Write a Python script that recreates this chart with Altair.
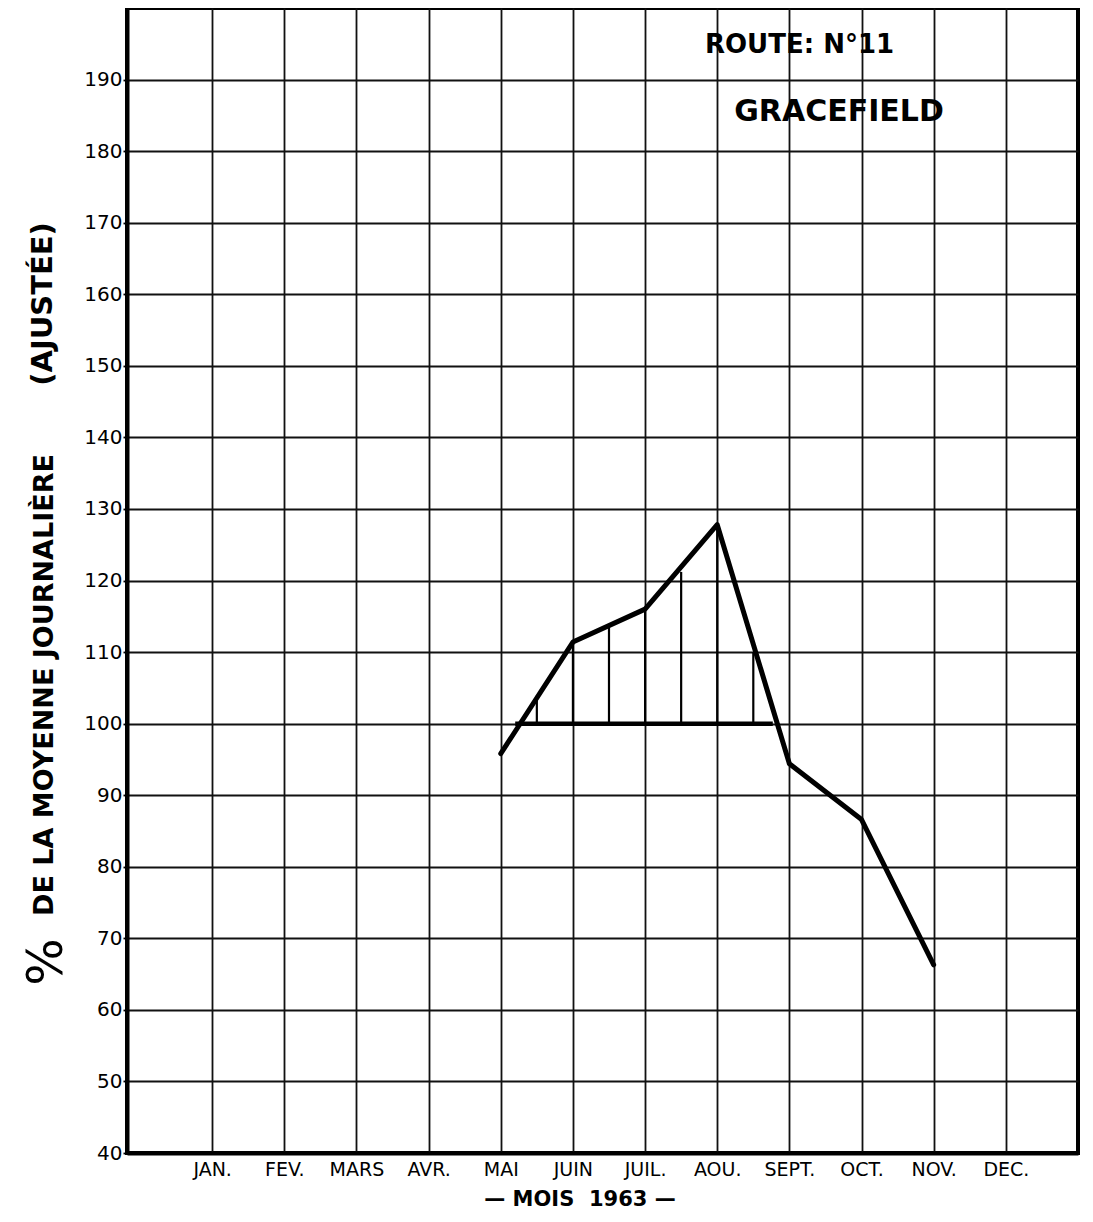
import altair as alt
import pandas as pd

# ---- data ----
month_labels = ["JAN.", "FEV.", "MARS", "AVR.", "MAI", "JUIN", "JUIL.", "AOU.", "SEPT.", "OCT.", "NOV.", "DEC."]
month_pos = list(range(1, 13))

line_months = [5, 6, 7, 8, 9, 10, 11]
line_values = [95.8, 111.4, 116.0, 127.8, 94.4, 86.6, 66.3]

hatch_months = [5.5, 6, 6.5, 7, 7.5, 8, 8.5]
hatch_tops = [103.9, 111.4, 113.8, 116.0, 121.2, 127.8, 110.0]

base_value = 100
base_start = 5.2
base_end = 8.77

y_ticks = list(range(40, 200, 10))

route_text = "ROUTE: N°11"
place_text = "GRACEFIELD"
x_title = "— MOIS\u00a0\u00a01963 —"
y_title_pct = "%"
y_title_main = "DE LA MOYENNE JOURNALIÈRE"
y_title_paren = "(AJUSTÉE)"

FONT = "DejaVu Sans"

W, H = 951, 1145
xscale = alt.Scale(domain=[-0.18, 13], nice=False, zero=False)
yscale = alt.Scale(domain=[40, 200], nice=False, zero=False)

label_expr = "[" + ",".join("'" + m + "'" for m in month_labels) + "][datum.value - 1]"

line_df = pd.DataFrame({"m": line_months, "v": line_values})
hatch_df = pd.DataFrame({"m": hatch_months, "base": [base_value] * len(hatch_months), "top": hatch_tops})
base_df = pd.DataFrame({"m1": [base_start], "m2": [base_end], "v": [base_value]})

xaxis = alt.Axis(values=month_pos, labelExpr=label_expr, title=None, grid=True,
                 gridColor="#111", gridWidth=1.8, domainColor="#000", domainWidth=4,
                 tickSize=0, labelPadding=7, labelFontSize=19, labelFont=FONT,
                 labelColor="#000", labelFontWeight="normal")
yaxis = alt.Axis(values=y_ticks, title=None, grid=True, gridColor="#111", gridWidth=1.8,
                 domainColor="#000", domainWidth=4, tickColor="#000", tickSize=4, tickWidth=1.8,
                 labelPadding=1, labelFontSize=20, labelFont=FONT, labelColor="#000")

line = alt.Chart(line_df).mark_line(color="#000", strokeWidth=5, strokeJoin="round", strokeCap="round").encode(
    x=alt.X("m:Q", scale=xscale, axis=xaxis),
    y=alt.Y("v:Q", scale=yscale, axis=yaxis),
)

hatch = alt.Chart(hatch_df).mark_rule(color="#000", strokeWidth=2.2).encode(
    x=alt.X("m:Q", scale=xscale),
    y=alt.Y("base:Q", scale=yscale),
    y2="top:Q",
)

base = alt.Chart(base_df).mark_rule(color="#000", strokeWidth=4.5).encode(
    x=alt.X("m1:Q", scale=xscale),
    x2="m2:Q",
    y=alt.Y("v:Q", scale=yscale),
)


def txt(s, x, y, size, weight="bold", angle=0, align="center"):
    return alt.Chart(pd.DataFrame({"t": [s]})).mark_text(
        font=FONT, fontSize=size, fontWeight=weight, color="#000",
        angle=angle, align=align, baseline="middle"
    ).encode(x=alt.value(x), y=alt.value(y), text="t:N")


texts = [
    txt(route_text, 578, 37, 26, align="left"),
    txt(place_text, 712, 104, 30),
    txt(x_title, 453, 1192, 21),
    txt(y_title_pct, -80, 954, 50, weight="normal", angle=270),
    txt(y_title_main, -82, 677, 27, angle=270),
    txt(y_title_paren, -84, 296, 29, angle=270),
]

chart = alt.layer(hatch, base, line, *texts).properties(
    width=W, height=H,
    autosize=alt.AutoSizeParams(type="none"),
    padding={"left": 119, "top": 0, "right": 7, "bottom": 61},
    background="white",
).configure_view(stroke="#000", strokeWidth=4)

chart.save("out.html", embed_options={"renderer": "svg", "actions": False})
